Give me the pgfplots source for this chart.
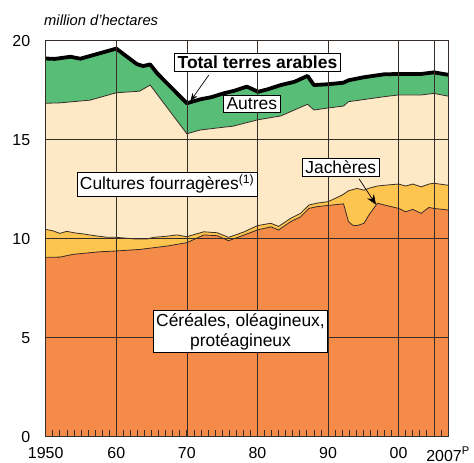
\documentclass[border=0pt]{standalone}
\usepackage{pgfplots}
\usepackage{pgfplotstable}
\pgfplotsset{compat=1.18}
\usetikzlibrary{arrows.meta}
\usepackage{fontspec}
\setmainfont{Liberation Sans}
\definecolor{cer}{RGB}{245,139,72}
\definecolor{jac}{RGB}{253,196,79}
\definecolor{fou}{RGB}{254,233,198}
\definecolor{aut}{RGB}{88,189,118}
\definecolor{gridc}{RGB}{55,45,40}

\pgfplotstableread{
x y
1950 19.10
1951.3 19.08
1953.5 19.19
1954.9 19.09
1956.3 19.23
1958 19.40
1960 19.60
1962.9 18.82
1963.8 18.72
1964.8 18.80
1965.8 18.35
1970 16.84
1971.9 17.04
1973.5 17.15
1975.2 17.34
1976.8 17.48
1978.5 17.68
1980.1 17.42
1981.5 17.55
1983.3 17.76
1985.2 17.92
1987.1 18.22
1988 17.76
1990 17.80
1992.2 17.88
1992.9 18.00
1995 18.15
1997.9 18.30
2000 18.32
2003.2 18.32
2005 18.40
2007 18.28
}\tot

\pgfplotstableread{
x y
1950 16.84
1952 16.86
1956.3 17.00
1960 17.37
1963.3 17.45
1964.8 17.76
1970 15.30
1971.9 15.49
1975.2 15.63
1976.5 15.68
1980 16.00
1983.3 16.20
1987.1 16.79
1988 16.50
1990 16.60
1992.2 16.70
1992.9 16.92
1997.9 17.17
2000 17.26
2003.2 17.26
2005 17.34
2007 17.20
}\fou

\pgfplotstableread{
x y
1950 10.47
1951 10.40
1952 10.27
1953 10.37
1954 10.30
1955.3 10.24
1957 10.15
1958.7 10.07
1960 10.07
1962.9 9.98
1964.3 9.98
1965.3 10.07
1967 10.12
1968.6 10.19
1970 10.10
1972.4 10.35
1974.3 10.30
1975.9 10.07
1978 10.33
1980 10.66
1981.9 10.78
1983 10.62
1984.7 11.03
1986.1 11.28
1987.3 11.70
1988.5 11.80
1990 11.87
1992 12.20
1992.9 12.42
1994.1 12.54
1995.1 12.45
1995.8 12.55
1997 12.66
1998 12.70
2000 12.76
2001 12.66
2002 12.76
2003.2 12.62
2004.3 12.76
2005 12.80
2007 12.70
}\jac

\pgfplotstableread{
x y
1950 9.06
1952 9.07
1953.9 9.21
1957.7 9.34
1960 9.38
1963.4 9.46
1967.2 9.63
1970 9.80
1972.4 10.19
1974.3 10.15
1975.9 9.90
1978 10.17
1980 10.44
1981.9 10.60
1983 10.44
1984.7 10.86
1986.1 11.10
1987.3 11.53
1988.5 11.62
1990 11.68
1992.2 11.76
1992.9 10.86
1993.5 10.68
1994.1 10.66
1995.1 10.78
1995.8 11.20
1997 11.79
1998 11.70
2000 11.53
2001 11.36
2002 11.48
2003.2 11.28
2004.3 11.58
2005 11.53
2007 11.45
}\cer

\begin{document}
\begin{tikzpicture}
\path[use as bounding box] (0,0) rectangle (474bp,463bp);
\begin{axis}[
  at={(45.7bp,26.3bp)}, anchor=south west,
  scale only axis, width=402.3bp, height=396bp,
  xmin=1950, xmax=2007, ymin=0, ymax=20,
  axis on top,
  xtick={1950,1960,1970,1980,1990,2000,2007},
  xticklabels={1950,60,70,80,90,00,2007\textsuperscript{P}},
  extra x ticks={2005}, extra x tick labels={},
  extra x tick style={grid=major},
  minor xtick={1951,1952,...,2006},
  xminorticks=true,
  ytick={0,5,10,15,20},
  xmajorgrids, ymajorgrids,
  major grid style={gridc, line width=0.7bp},
  tick align=inside,
  xtick pos=bottom, ytick pos=left,
  major tick length=7bp, minor tick length=7bp,
  tick style={gridc, line width=0.7bp},
  minor tick style={gridc, line width=0.7bp},
  axis line style={gridc, line width=0.7bp},
  /pgf/number format/assume math mode=true,
  ticklabel style={font=\fontsize{16}{19}\selectfont},
  xticklabel style={yshift=-7bp},
  yticklabel style={xshift=-12bp},
]
\addplot[fill=aut, draw=none] table {\tot} \closedcycle;
\addplot[fill=fou, draw=none] table {\fou} \closedcycle;
\addplot[fill=jac, draw=none] table {\jac} \closedcycle;
\addplot[fill=cer, draw=none] table {\cer} \closedcycle;
\addplot[gridc, line width=0.8bp] table {\fou};
\addplot[gridc, line width=0.8bp] table {\jac};
\addplot[gridc, line width=0.8bp] table {\cer};
\addplot[black, line width=3.8bp, line join=round] table {\tot};

\coordinate (totlab) at (axis cs:1980,18.92);
\coordinate (tota) at (axis cs:1973.1,18.26);
\coordinate (totb) at (axis cs:1970.5,16.95);
\coordinate (autlab) at (axis cs:1979.2,16.80);
\coordinate (foulab) at (axis cs:1967.2,12.76);
\coordinate (jaclab) at (axis cs:1991.8,13.60);
\coordinate (jaca) at (axis cs:1994.4,13.02);
\coordinate (jacb) at (axis cs:1996.8,11.72);
\coordinate (cerlab) at (axis cs:1977.6,5.31);
\end{axis}
\tikzset{lab/.style={draw=black, line width=0.8bp, fill=white, inner xsep=3bp, inner ysep=2.5bp, font=\fontsize{17.5}{20}\selectfont}}
\draw[line width=0.7bp, -{Stealth[length=8bp,width=6bp]}] (tota) -- (totb);
\draw[line width=0.7bp, -{Stealth[length=10bp,width=8bp]}] (jaca) -- (jacb);
\node[lab, font=\fontsize{17.5}{20}\selectfont\bfseries] at (totlab) {Total terres arables};
\node[lab] at (autlab) {Autres};
\node[lab] at (foulab) {Cultures fourragères\textsuperscript{(1)}};
\node[lab] at (jaclab) {Jachères};
\node[lab, align=center] at (cerlab) {Céréales, oléagineux,\\protéagineux};
\node[anchor=base west, inner sep=0pt, font=\fontsize{14.8}{18}\selectfont\itshape] at (44bp,437bp) {million d’hectares};
\end{tikzpicture}
\end{document}
